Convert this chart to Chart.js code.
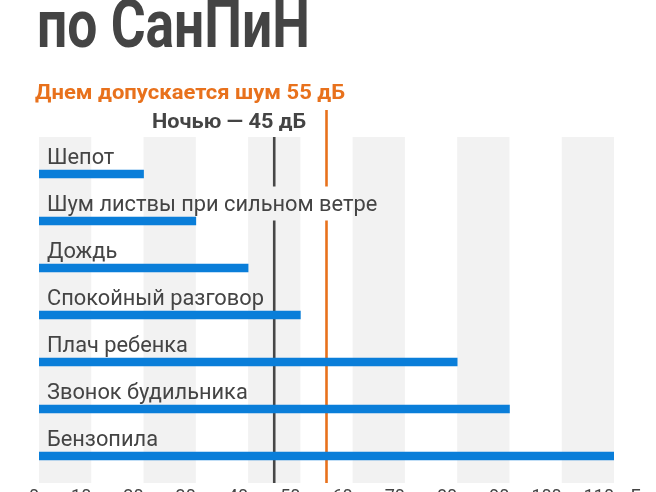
<!DOCTYPE html>
<html>
<head>
<meta charset="utf-8">
<script src="https://cdn.jsdelivr.net/npm/chart.js@4.4.0/dist/chart.umd.min.js"></script>
<style>
    body { margin: 0; background: #fff; overflow: hidden; }
    #wrap { position: relative; width: 656px; height: 492px; overflow: hidden; background: #fff; }
    #chart { position: absolute; left: 0; top: 0; }
    .txt { position: absolute; white-space: nowrap; line-height: 1; font-family: Roboto, sans-serif; font-weight: 700; transform-origin: 0 0; }
    #title { left: 37px; top: -7.6px; font-size: 66px; color: #444; }
    #day { left: 35px; top: 82.3px; font-size: 21px; color: #e8711c; }
    #night { left: 152px; top: 111.2px; font-size: 20px; color: #444; }
    #unit { left: 620px; top: 487px; font-size: 18px; font-weight: 400; color: #444; }
</style>
</head>
<body>
<div id="wrap">
    <canvas id="chart" width="656" height="520"></canvas>
    <div class="txt" id="title">по СанПиН</div>
    <div class="txt" id="day">Днем допускается шум 55 дБ</div>
    <div class="txt" id="night">Ночью — 45 дБ</div>
    <div class="txt" id="unit">дБ</div>
</div>
<script>
const categories = [
    "Шепот",
    "Шум листвы при сильном ветре",
    "Дождь",
    "Спокойный разговор",
    "Плач ребенка",
    "Звонок будильника",
    "Бензопила"
];
const noiseDb = [20, 30, 40, 50, 80, 90, 110];
const xTicks = [0, 10, 20, 30, 40, 50, 60, 70, 80, 90, 100, 110];
const nightLimit = 45;
const dayLimit = 55;

// squeeze the bold headings to the condensed look of the original
function fitWidth(id, w) {
    let el = document.getElementById(id);
    el.style.transform = "scaleX(" + (w / el.getBoundingClientRect().width) + ")";
}
fitWidth("title", 273);
fitWidth("day", 310);
fitWidth("night", 154);

const labelFont = "21.8px Roboto";

function labelBoxes(chart) {
    let ctx = chart.ctx;
    let area = chart.chartArea;
    let y = chart.scales.y;
    ctx.save();
    ctx.font = labelFont;
    let boxes = categories.map((name, i) => {
        let cy = y.getPixelForValue(i);
        return {
            name: name,
            x: area.left + 8,
            base: cy - 10.5,
            left: area.left + 6,
            right: area.left + 10 + ctx.measureText(name).width,
            top: cy - 34.5,
            bottom: cy - 0.5
        };
    });
    ctx.restore();
    return boxes;
}

function drawLimit(chart, value, color, top, bottom, boxes) {
    let ctx = chart.ctx;
    let px = chart.scales.x.getPixelForValue(value);
    let gaps = boxes.filter(b => b.left < px && b.right > px);
    ctx.save();
    ctx.strokeStyle = color;
    ctx.lineWidth = 2.6;
    let from = top;
    gaps.forEach(g => {
        ctx.beginPath();
        ctx.moveTo(px, from);
        ctx.lineTo(px, g.top);
        ctx.stroke();
        from = g.bottom;
    });
    ctx.beginPath();
    ctx.moveTo(px, from);
    ctx.lineTo(px, bottom);
    ctx.stroke();
    ctx.restore();
}

const decor = {
    id: "decor",
    beforeDatasetsDraw(chart) {
        let ctx = chart.ctx;
        let area = chart.chartArea;
        let x = chart.scales.x;
        let top = area.top - 13.5;
        let bottom = area.bottom + 3.5;
        ctx.save();
        ctx.fillStyle = "#f2f2f2";
        for (let i = 0; i < xTicks.length - 1; i += 2) {
            let a = x.getPixelForValue(xTicks[i]);
            let b = x.getPixelForValue(xTicks[i + 1]);
            ctx.fillRect(a, top, b - a, bottom - top);
        }
        ctx.restore();
        let boxes = labelBoxes(chart);
        drawLimit(chart, nightLimit, "#474747", top, bottom, boxes);
        drawLimit(chart, dayLimit, "#e8711c", top - 27, bottom, boxes);
    },
    afterDatasetsDraw(chart) {
        let ctx = chart.ctx;
        ctx.save();
        ctx.font = labelFont;
        ctx.fillStyle = "#444";
        ctx.textAlign = "left";
        ctx.textBaseline = "alphabetic";
        labelBoxes(chart).forEach(b => ctx.fillText(b.name, b.x, b.base));
        ctx.restore();
    }
};

new Chart(document.getElementById("chart").getContext("2d"), {
    type: "bar",
    data: {
        labels: categories,
        datasets: [
            {
                data: noiseDb,
                backgroundColor: "#0a7ed9",
                borderWidth: 0,
                barThickness: 8
            }
        ]
    },
    options: {
        indexAxis: "y",
        responsive: false,
        animation: false,
        devicePixelRatio: 1,
        layout: { padding: { left: 39, right: 42, top: 150.5, bottom: 4.9 } },
        plugins: {
            legend: { display: false },
            tooltip: { enabled: false }
        },
        scales: {
            x: {
                min: 0,
                max: 110,
                grid: { display: false, drawTicks: false },
                border: { display: false },
                afterBuildTicks: (axis) => {
                    axis.ticks = xTicks.map(v => ({ value: v }));
                },
                ticks: {
                    autoSkip: false,
                    maxRotation: 0,
                    align: "end",
                    padding: 7,
                    color: "#444",
                    font: { family: "Roboto", size: 18 }
                }
            },
            y: { display: false }
        }
    },
    plugins: [decor]
});
</script>
</body>
</html>
